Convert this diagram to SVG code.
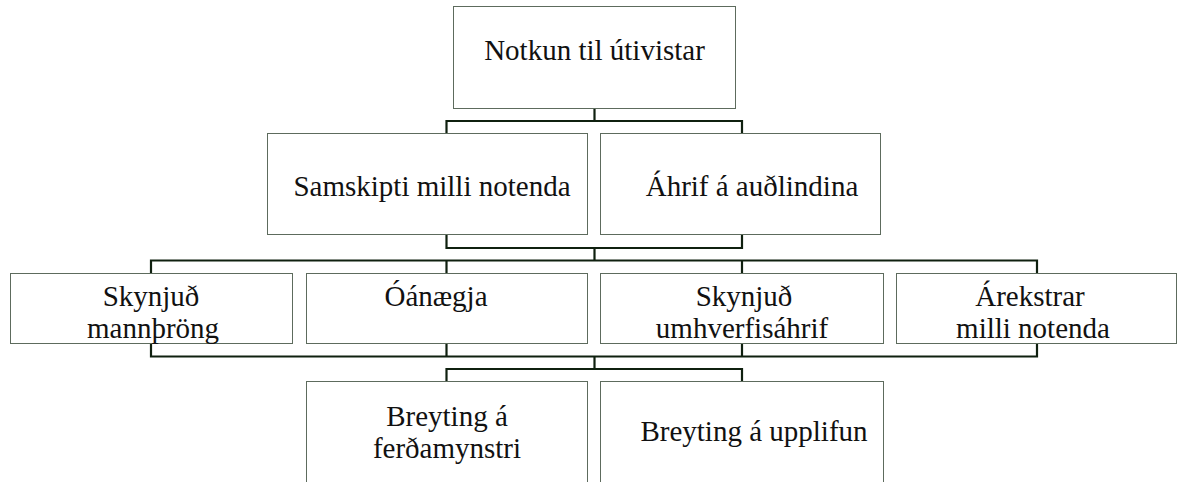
<svg xmlns="http://www.w3.org/2000/svg" width="1179" height="482" viewBox="0 0 1179 482">
<style>
.box{fill:#ffffff;stroke:#5d6b5d;stroke-width:1}
.lbl{font-family:"Liberation Serif","DejaVu Serif",serif;font-size:29px;fill:#111111;text-anchor:middle}
.conn{fill:none;stroke:#0f200f;stroke-width:2.2}
</style>
<rect width="1179" height="482" fill="#ffffff"/>
<g id="connectors">
<path class="conn" d="M594.5 108 V121 M446.5 133.5 V121 H742 V133.5"/>
<path class="conn" d="M446.5 234 V248 H742 V234 M594.5 248 V260.5"/>
<path class="conn" d="M151 273.5 V260.5 H1037 V273.5 M446.5 260.5 V273.5 M742 260.5 V273.5"/>
<path class="conn" d="M151 343 V356.5 H1037 V343 M446.5 343 V356.5 M742 343 V356.5"/>
<path class="conn" d="M594.5 356.5 V369 M446.5 381.5 V369 H742 V381.5"/>
</g>
<g id="n-top">
<rect class="box" x="453.5" y="6.5" width="282" height="102"/>
<text class="lbl" x="594.5" y="60">Notkun til útivistar</text>
</g>
<g id="n-samskipti">
<rect class="box" x="267.5" y="133.5" width="320" height="101"/>
<text class="lbl" x="432" y="196">Samskipti milli notenda</text>
</g>
<g id="n-ahrif">
<rect class="box" x="600.5" y="133.5" width="280" height="101"/>
<text class="lbl" x="752" y="196">Áhrif á auðlindina</text>
</g>
<g id="n-mannthrong">
<rect class="box" x="10.5" y="273.5" width="282" height="70"/>
<text class="lbl" x="151" y="306">Skynjuð</text>
<text class="lbl" x="153" y="338">mannþröng</text>
</g>
<g id="n-oanaegja">
<rect class="box" x="306.5" y="273.5" width="281" height="70"/>
<text class="lbl" x="436" y="306">Óánægja</text>
</g>
<g id="n-umhverfis">
<rect class="box" x="600.5" y="273.5" width="283" height="70"/>
<text class="lbl" x="744" y="306">Skynjuð</text>
<text class="lbl" x="742" y="338">umhverfisáhrif</text>
</g>
<g id="n-arekstrar">
<rect class="box" x="896.5" y="273.5" width="280" height="70"/>
<text class="lbl" x="1030" y="306">Árekstrar</text>
<text class="lbl" x="1033" y="338">milli notenda</text>
</g>
<g id="n-ferda">
<rect class="box" x="306.5" y="381.5" width="281" height="120"/>
<text class="lbl" x="447" y="426">Breyting á</text>
<text class="lbl" x="447" y="458">ferðamynstri</text>
</g>
<g id="n-upplifun">
<rect class="box" x="600.5" y="381.5" width="283" height="120"/>
<text class="lbl" x="754" y="441">Breyting á upplifun</text>
</g>
</svg>
